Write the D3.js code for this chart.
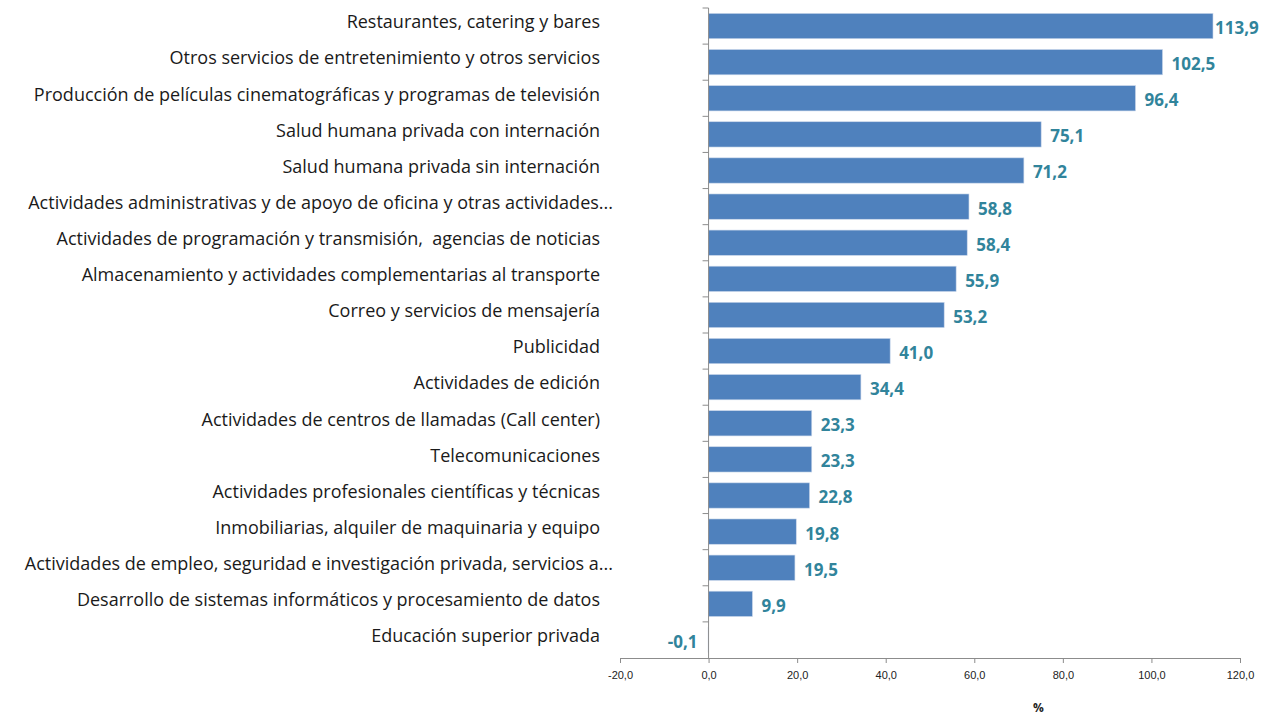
<!DOCTYPE html>
<html>
<head>
<meta charset="utf-8">
<script src="https://cdn.jsdelivr.net/npm/d3@7"></script>
<style>
  body { margin: 0; background: #fff; }
  svg { display: block; font-family: "Open Sans", "Noto Sans", sans-serif; }
</style>
</head>
<body>
<svg id="chart" width="1268" height="715"></svg>
<script>
// categorías (de arriba hacia abajo)
const categories = [
    "Restaurantes, catering y bares",
    "Otros servicios de entretenimiento y otros servicios",
    "Producción de películas cinematográficas y programas de televisión",
    "Salud humana privada con internación",
    "Salud humana privada sin internación",
    "Actividades administrativas y de apoyo de oficina y otras actividades...",
    "Actividades de programación y transmisión,  agencias de noticias",
    "Almacenamiento y actividades complementarias al transporte",
    "Correo y servicios de mensajería",
    "Publicidad",
    "Actividades de edición",
    "Actividades de centros de llamadas (Call center)",
    "Telecomunicaciones",
    "Actividades profesionales científicas y técnicas",
    "Inmobiliarias, alquiler de maquinaria y equipo",
    "Actividades de empleo, seguridad e investigación privada, servicios a...",
    "Desarrollo de sistemas informáticos y procesamiento de datos",
    "Educación superior privada"
];

// variación %
const values = [113.9, 102.5, 96.4, 75.1, 71.2, 58.8, 58.4, 55.9, 53.2, 41.0, 34.4, 23.3, 23.3, 22.8, 19.8, 19.5, 9.9, -0.1];

// ticks eje x
const xTicks = [-20, 0, 20, 40, 60, 80, 100, 120];

const data = categories.map((c, i) => ({name: c, value: values[i]}));

const svg = d3.select("#chart");
const margin = {top: 8, right: 28, bottom: 57, left: 620};
const width = 1268 - margin.left - margin.right;
const height = 715 - margin.top - margin.bottom;

const fmt = v => d3.format(".1f")(v).replace(".", ",").replace("−", "-");

// escalas
const x = d3.scaleLinear().domain([-20, 120]).range([0, width]);
const y = d3.scaleBand().domain(categories).range([0, height]).paddingInner(0.3).paddingOuter(0.15);

const g = svg.append("g").attr("transform", `translate(${margin.left},${margin.top})`);

// barras
g.selectAll("rect.bar")
    .data(data)
    .join("rect")
    .attr("class", "bar")
    .attr("x", d => x(Math.min(0, d.value)))
    .attr("y", d => y(d.name))
    .attr("width", d => Math.abs(x(d.value) - x(0)))
    .attr("height", y.bandwidth())
    .attr("fill", "#4F81BD")
    .attr("stroke", "#c9d6ea")
    .attr("stroke-width", 0.6);

// eje x
const axisX = g.append("g")
    .attr("transform", `translate(0,${height})`)
    .call(d3.axisBottom(x).tickValues(xTicks).tickFormat(fmt).tickSizeOuter(0).tickSize(5).tickPadding(8));
axisX.select(".domain").attr("stroke", "#8c8c8c");
axisX.selectAll(".tick line").attr("stroke", "#8c8c8c");
axisX.selectAll(".tick text").attr("fill", "#222").style("font-size", "11px");

// eje y en el cero, con marcas entre categorías
const step = y.step();
const yStart = y(categories[0]) - y.paddingOuter() * step;
const boundaries = d3.range(categories.length + 1).map(i => yStart + i * step);
const axisY = g.append("g").attr("transform", `translate(${x(0)},0)`);
axisY.append("line")
    .attr("y1", boundaries[0]).attr("y2", height)
    .attr("stroke", "#8c8c8c");
axisY.selectAll("line.tk")
    .data(boundaries.slice(0, -1))
    .join("line")
    .attr("class", "tk")
    .attr("x1", -6).attr("x2", 0)
    .attr("y1", d => d).attr("y2", d => d)
    .attr("stroke", "#8c8c8c");

// etiquetas de categorías
svg.append("g")
    .selectAll("text")
    .data(data)
    .join("text")
    .attr("x", d => d.name.endsWith("...") ? 613 : 600)
    .attr("y", d => margin.top + y(d.name) + y.bandwidth() / 2 - 4)
    .attr("dy", "0.35em")
    .attr("text-anchor", "end")
    .attr("fill", "#1a1a1a")
    .style("font-size", "18px")
    .style("white-space", "pre")
    .text(d => d.name);

// etiquetas de valores
g.selectAll("text.val")
    .data(data)
    .join("text")
    .attr("class", "val")
    .attr("x", d => d.value < 0 ? x(0) - 11 : Math.min(x(d.value) + 9, width - 25))
    .attr("y", d => y(d.name) + y.bandwidth() / 2 + 2)
    .attr("dy", "0.35em")
    .attr("text-anchor", d => d.value < 0 ? "end" : "start")
    .attr("fill", "#31849B")
    .style("font-size", "17px")
    .style("font-weight", "bold")
    .text(d => fmt(d.value));

// título eje x
svg.append("text")
    .attr("x", margin.left + x(74.5))
    .attr("y", 712)
    .attr("text-anchor", "middle")
    .attr("fill", "#222")
    .style("font-size", "12px")
    .style("font-weight", "bold")
    .text("%");
</script>
</body>
</html>
